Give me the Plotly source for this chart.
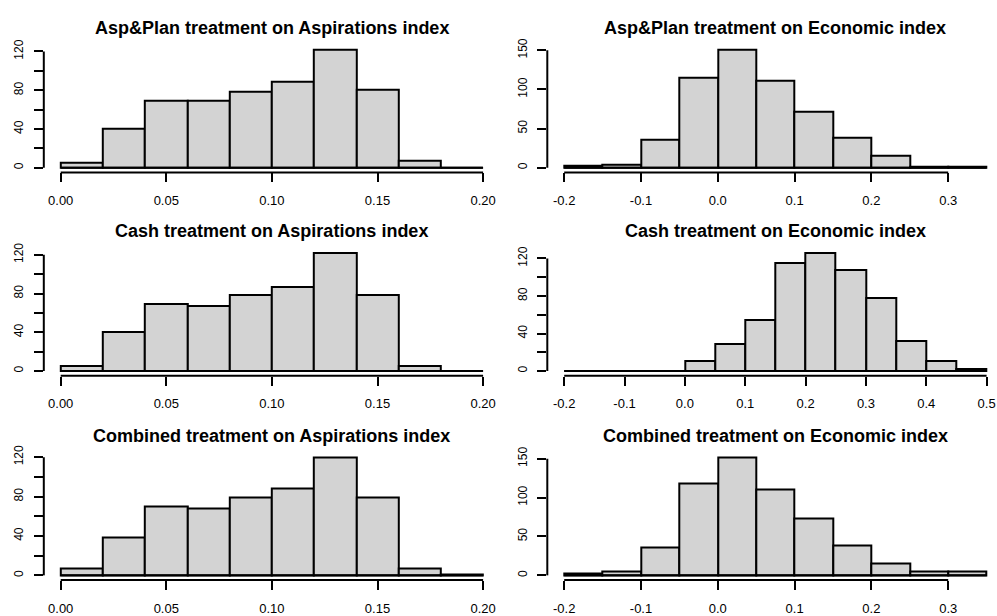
import plotly.graph_objects as go

FIG_W, FIG_H = 997, 616

# ---------------- data ----------------
titles = [
    "Asp&Plan treatment on Aspirations index",
    "Asp&Plan treatment on Economic index",
    "Cash treatment on Aspirations index",
    "Cash treatment on Economic index",
    "Combined treatment on Aspirations index",
    "Combined treatment on Economic index",
]

asp_edges = [0.00, 0.02, 0.04, 0.06, 0.08, 0.10, 0.12, 0.14, 0.16, 0.18, 0.20]
econ_edges = [-0.20, -0.15, -0.10, -0.05, 0.00, 0.05, 0.10, 0.15, 0.20, 0.25, 0.30, 0.35]
cash_econ_edges = [-0.20, -0.15, -0.10, -0.05, 0.00, 0.05, 0.10, 0.15, 0.20,
                   0.25, 0.30, 0.35, 0.40, 0.45, 0.50]

aspplan_asp_counts = [5, 40, 69, 69, 78, 89, 122, 80, 7, 0]
aspplan_econ_counts = [2, 4, 36, 115, 151, 111, 72, 38, 15, 1, 1]
cash_asp_counts = [5, 40, 69, 67, 78, 87, 122, 78, 5, 0]
cash_econ_counts = [0, 0, 0, 0, 11, 29, 54, 115, 126, 108, 78, 32, 11, 2]
combined_asp_counts = [7, 39, 70, 68, 79, 88, 120, 79, 7, 1]
combined_econ_counts = [2, 5, 36, 118, 152, 111, 73, 39, 16, 5, 5]

asp_xticks = [0.00, 0.05, 0.10, 0.15, 0.20]
asp_xlabels = ["0.00", "0.05", "0.10", "0.15", "0.20"]
econ_xticks = [-0.2, -0.1, 0.0, 0.1, 0.2, 0.3]
econ_xlabels = ["-0.2", "-0.1", "0.0", "0.1", "0.2", "0.3"]
cash_econ_xticks = [-0.2, -0.1, 0.0, 0.1, 0.2, 0.3, 0.4, 0.5]
cash_econ_xlabels = ["-0.2", "-0.1", "0.0", "0.1", "0.2", "0.3", "0.4", "0.5"]
y120_ticks = [0, 20, 40, 60, 80, 100, 120]
y120_labels = ["0", "", "40", "", "80", "", "120"]
y150_ticks = [0, 50, 100, 150]
y150_labels = ["0", "50", "100", "150"]

panels = [
    (asp_edges, aspplan_asp_counts, asp_xticks, asp_xlabels, y120_ticks, y120_labels),
    (econ_edges, aspplan_econ_counts, econ_xticks, econ_xlabels, y150_ticks, y150_labels),
    (asp_edges, cash_asp_counts, asp_xticks, asp_xlabels, y120_ticks, y120_labels),
    (cash_econ_edges, cash_econ_counts, cash_econ_xticks, cash_econ_xlabels, y120_ticks, y120_labels),
    (asp_edges, combined_asp_counts, asp_xticks, asp_xlabels, y120_ticks, y120_labels),
    (econ_edges, combined_econ_counts, econ_xticks, econ_xlabels, y150_ticks, y150_labels),
]

# ---------------- geometry (pixels) ----------------
col_left = [43.8, 547.3]
row_top = [38.5, 245.5, 453.5]
PW, PH = 456.2, 130.0
FONT = "Arial, 'Liberation Sans', sans-serif"

fig = go.Figure()
shapes = []
annotations = []
layout = {}

for i, (edges, counts, xt, xl, yt, yl) in enumerate(panels):
    r, c = divmod(i, 2)
    n = i + 1
    xa = "x" if n == 1 else f"x{n}"
    ya = "y" if n == 1 else f"y{n}"
    xkey = "xaxis" if n == 1 else f"xaxis{n}"
    ykey = "yaxis" if n == 1 else f"yaxis{n}"

    lo, hi = edges[0], edges[-1]
    w = hi - lo
    rlo, rhi = lo - 0.04 * w, hi + 0.04 * w
    left = col_left[c]
    right = left + PW
    if right > FIG_W:
        rhi = rlo + (FIG_W - left) / PW * (rhi - rlo)
        right = FIG_W
    top = row_top[r]
    bottom = top + PH
    ymax = max(counts)

    mids = [(edges[k] + edges[k + 1]) / 2 for k in range(len(counts))]
    widths = [edges[k + 1] - edges[k] for k in range(len(counts))]

    fig.add_trace(go.Bar(
        x=mids, y=counts, width=widths,
        marker=dict(color="#D3D3D3", line=dict(color="black", width=2)),
        xaxis=xa, yaxis=ya, showlegend=False, hoverinfo="x+y",
    ))
    fig.add_trace(go.Scatter(
        x=[edges[0], edges[-1]], y=[0, 0], mode="lines",
        line=dict(color="black", width=2),
        xaxis=xa, yaxis=ya, showlegend=False, hoverinfo="skip",
    ))

    layout[xkey] = dict(
        domain=[left / FIG_W, right / FIG_W], range=[rlo, rhi], anchor=ya,
        showline=False, showgrid=False, zeroline=False,
        ticks="outside", ticklen=9, tickwidth=2, tickcolor="black",
        tickvals=xt, ticktext=xl, tickangle=0,
        tickfont=dict(family=FONT, size=13, color="black"),
        ticklabelstandoff=7, ticklabeloverflow="allow", fixedrange=True,
    )
    layout[ykey] = dict(
        domain=[1 - bottom / FIG_H, 1 - top / FIG_H],
        range=[-0.04 * ymax, 1.04 * ymax], anchor=xa,
        showline=False, showgrid=False, zeroline=False,
        ticks="outside", ticklen=9, tickwidth=2, tickcolor="black",
        tickvals=yt, ticktext=yl, tickangle=-90,
        tickfont=dict(family=FONT, size=12, color="black"),
        ticklabelstandoff=6, fixedrange=True,
    )
    # R-style axis lines: spanning first to last tick only
    shapes.append(dict(type="line", xref=xa, yref=f"{ya} domain",
                       x0=xt[0], x1=xt[-1], y0=0, y1=0,
                       line=dict(color="black", width=2)))
    shapes.append(dict(type="line", xref=f"{xa} domain", yref=ya,
                       x0=0, x1=0, y0=yt[0], y1=yt[-1],
                       line=dict(color="black", width=2)))

    cx = (col_left[c] + col_left[c] + PW) / 2
    annotations.append(dict(
        text=f"<b>{titles[i]}</b>", xref="paper", yref="paper",
        x=cx / FIG_W, y=1 - (top - 17) / FIG_H,
        xanchor="center", yanchor="middle", showarrow=False,
        font=dict(family=FONT, size=18, color="black"),
    ))

fig.update_layout(
    width=FIG_W, height=FIG_H,
    margin=dict(l=0, r=0, t=0, b=0),
    paper_bgcolor="white", plot_bgcolor="white",
    shapes=shapes, annotations=annotations,
    bargap=0, showlegend=False,
    **layout,
)

fig.write_html(
    "out.html",
    config={"displayModeBar": False},
    post_script="document.body.style.margin='0';document.body.style.padding='0';"
                "document.body.style.overflow='hidden';",
)
